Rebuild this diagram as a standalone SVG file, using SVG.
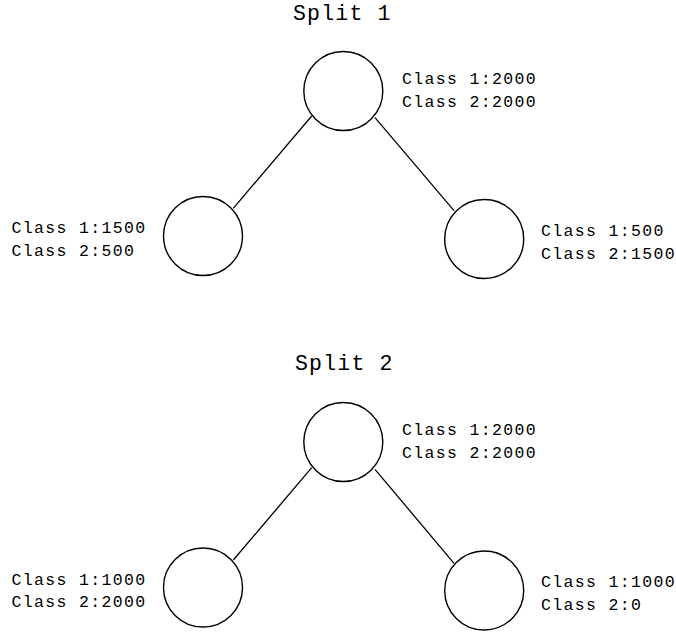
<svg xmlns="http://www.w3.org/2000/svg" width="676" height="634" viewBox="0 0 676 634">
<style>
.n{fill:#fff;stroke:#000;stroke-width:1.4}
.e{stroke:#000;stroke-width:1.3;fill:none}
.t{font-family:"Liberation Mono","DejaVu Sans Mono",monospace;font-size:16.5px;letter-spacing:1.35px;fill:#000}
.h{font-family:"Liberation Mono","DejaVu Sans Mono",monospace;font-size:21.5px;letter-spacing:1.2px;fill:#000}
</style>
<rect width="676" height="634" fill="#fff"/>
<text class="h" x="293" y="20">Split 1</text>
<text class="h" x="295" y="370">Split 2</text>
<g id="edges">
<line class="e" x1="311.7" y1="116" x2="233.3" y2="208.3"/>
<line class="e" x1="375" y1="117.7" x2="454" y2="210.7"/>
<line class="e" x1="311.7" y1="467.7" x2="233.3" y2="560"/>
<line class="e" x1="375" y1="469.3" x2="454" y2="563.3"/>
</g>
<g id="s1root"><circle class="n" cx="343.3" cy="91" r="39.5"/>
<text class="t" x="402" y="84">Class 1:2000</text><text class="t" x="402" y="107">Class 2:2000</text></g>
<g id="s1left"><circle class="n" cx="203" cy="236" r="39.5"/>
<text class="t" x="11.5" y="233">Class 1:1500</text><text class="t" x="11.5" y="255.5">Class 2:500</text></g>
<g id="s1right"><circle class="n" cx="484.2" cy="239" r="39.5"/>
<text class="t" x="541" y="236">Class 1:500</text><text class="t" x="541" y="258.5">Class 2:1500</text></g>
<g id="s2root"><circle class="n" cx="343.3" cy="442" r="39.5"/>
<text class="t" x="402" y="435">Class 1:2000</text><text class="t" x="402" y="458">Class 2:2000</text></g>
<g id="s2left"><circle class="n" cx="203" cy="587.5" r="39.5"/>
<text class="t" x="11.5" y="585">Class 1:1000</text><text class="t" x="11.5" y="607">Class 2:2000</text></g>
<g id="s2right"><circle class="n" cx="484.2" cy="590.5" r="39.5"/>
<text class="t" x="541" y="587">Class 1:1000</text><text class="t" x="541" y="609.5">Class 2:0</text></g>
</svg>
